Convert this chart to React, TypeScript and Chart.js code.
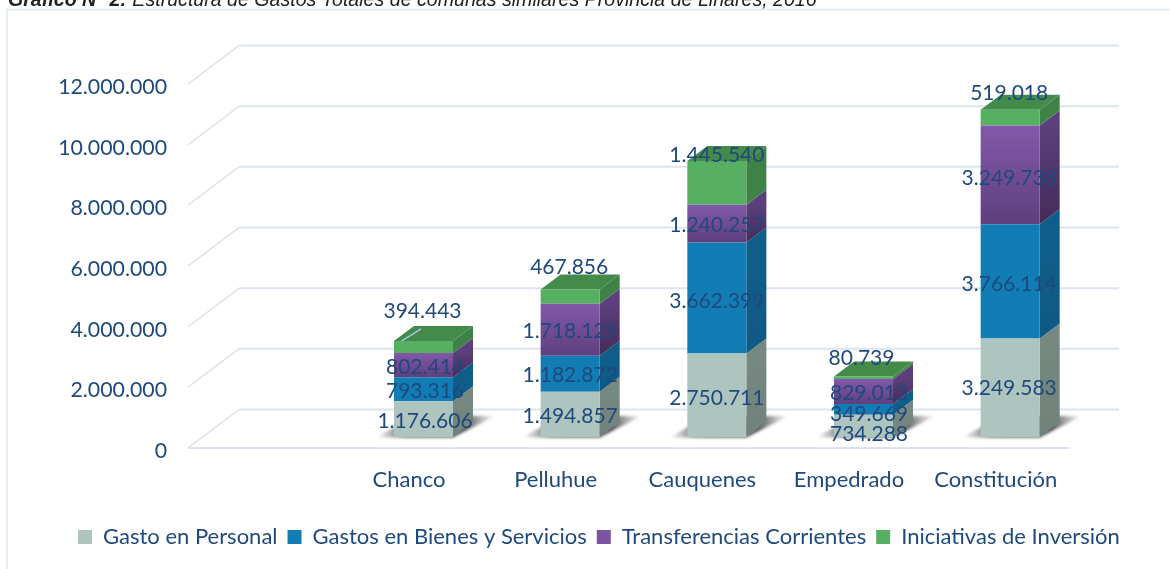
import React, { useEffect, useRef } from "react";
import { Chart, registerables } from "chart.js";

Chart.register(...registerables);

const communes = ["", "Chanco", "Pelluhue", "Cauquenes", "Empedrado", "Constitución"];
const gastoPersonal = [null, 1176606, 1494857, 2750711, 734288, 3249583];
const bienesServicios = [null, 793316, 1182872, 3662399, 349669, 3766114];
const transferencias = [null, 802414, 1718129, 1240257, 829013, 3249738];
const inversion = [null, 394443, 467856, 1445540, 80739, 519018];
const seriesNames = [
  "Gasto en Personal",
  "Gastos en Bienes y Servicios",
  "Transferencias Corrientes",
  "Iniciativas de Inversión",
];

const INK = "#1F497D";
const FONT = "Lato";
const fmt = (v: number) => String(v).replace(/\B(?=(\d{3})+(?!\d))/g, ".");

// label nudges [dataset][category] => [dx, dy], as placed by hand in the reference
const labelNudges: Record<string, [number, number]> = {
  "0-1": [1.5, 2], "1-1": [1.5, 2], "2-1": [1.5, 2], "3-1": [-1, -36],
  "0-2": [0, 2], "1-2": [0, 2], "2-2": [0, 2], "3-2": [-1, -29],
  "0-3": [0, 3], "1-3": [0, 3], "2-3": [0, 2], "3-3": [0, -28],
  "0-4": [5.5, 8], "1-4": [5.5, 4.6], "2-4": [5.5, 2], "3-4": [-2, -20],
  "0-5": [-1, 1], "1-5": [-1, 3], "2-5": [-1, 3], "3-5": [-1, -25],
};

const FLOOR = { dx: 14.5, dy: -11 };
const BAR_DEPTH = { dx: 20, dy: -15 };
const WALL = { dx: 51, dy: -38.5 };

const sideColors: [string, string][] = [
  ["#768980", "#70827A"],
  ["#0F5E8A", "#0F5A84"],
  ["#5C3F7C", "#432C58"],
  ["#3F8247", "#3F8247"],
];

function poly(ctx: CanvasRenderingContext2D, pts: number[][]) {
  ctx.beginPath();
  pts.forEach((p, i) => (i ? ctx.lineTo(p[0], p[1]) : ctx.moveTo(p[0], p[1])));
  ctx.closePath();
}

const wallsPlugin = {
  id: "walls",
  afterLayout(chart: any) {
    const lg = chart.legend;
    lg.left = 68;
    lg.right = 1170;
  },
  beforeDatasetsDraw(chart: any) {
    const { ctx, chartArea, scales } = chart;
    const y = scales.y;
    const wallLeft = chartArea.left - 1;
    ctx.save();
    y.ticks.forEach((t: any) => {
      const py = y.getPixelForValue(t.value);
      ctx.strokeStyle = "#DADDE9";
      ctx.lineWidth = 1.2;
      ctx.beginPath();
      ctx.moveTo(wallLeft, py);
      ctx.lineTo(wallLeft + WALL.dx, py + WALL.dy);
      ctx.stroke();
      ctx.strokeStyle = "#DDE4EF";
      ctx.lineWidth = 2;
      ctx.beginPath();
      ctx.moveTo(wallLeft + WALL.dx, py + WALL.dy);
      ctx.lineTo(chartArea.right + 50, py + WALL.dy);
      ctx.stroke();
    });
    const p0 = y.getPixelForValue(0);
    ctx.strokeStyle = "#DDE4EF";
    ctx.lineWidth = 2;
    ctx.beginPath();
    ctx.moveTo(wallLeft, p0);
    ctx.lineTo(chartArea.right, p0);
    ctx.stroke();
    ctx.restore();

    ctx.save();
    ctx.translate(FLOOR.dx, FLOOR.dy);
    const first = chart.getDatasetMeta(0).data;
    first.forEach((b: any, i: number) => {
      if (!communes[i]) return;
      const l = b.x - b.width / 2;
      const r = b.x + b.width / 2;
      const g = ctx.createLinearGradient(l - 18, 0, r + 42, 0);
      g.addColorStop(0, "rgba(90,90,90,0)");
      g.addColorStop(0.25, "rgba(80,80,80,0.9)");
      g.addColorStop(0.75, "rgba(70,70,70,0.9)");
      g.addColorStop(1, "rgba(90,90,90,0)");
      ctx.save();
      ctx.filter = "blur(1.5px)";
      ctx.fillStyle = g;
      poly(ctx, [[l - 18, b.base + 0.5], [r, b.base + 0.5], [r + 42, b.base - 21], [l + 20, b.base - 21]]);
      ctx.fill();
      ctx.restore();
    });
    chart.data.datasets.forEach((_: any, d: number) => {
      chart.getDatasetMeta(d).data.forEach((b: any, i: number) => {
        if (!communes[i]) return;
        const r = b.x + b.width / 2;
        const l = b.x - b.width / 2;
        const g = ctx.createLinearGradient(0, b.y, 0, b.base);
        g.addColorStop(0, sideColors[d][0]);
        g.addColorStop(1, sideColors[d][1]);
        ctx.fillStyle = g;
        poly(ctx, [
          [r, b.y],
          [r + BAR_DEPTH.dx, b.y + BAR_DEPTH.dy],
          [r + BAR_DEPTH.dx, b.base + BAR_DEPTH.dy],
          [r, b.base],
        ]);
        ctx.fill();
        if (d === chart.data.datasets.length - 1) {
          ctx.fillStyle = "#438A4B";
          poly(ctx, [
            [l, b.y],
            [l + BAR_DEPTH.dx, b.y + BAR_DEPTH.dy],
            [r + BAR_DEPTH.dx, b.y + BAR_DEPTH.dy],
            [r, b.y],
          ]);
          ctx.fill();
        }
      });
    });
    const top = chart.getDatasetMeta(3).data[1];
    const tl = top.x - top.width / 2;
    ctx.strokeStyle = "#A9C6E8";
    ctx.lineWidth = 1.4;
    ctx.beginPath();
    ctx.moveTo(tl, top.y + 5);
    ctx.lineTo(tl + 27, top.y - 12);
    ctx.stroke();
    // bars are then drawn by Chart.js in this translated space (restored below)
  },
  afterDatasetsDraw(chart: any) {
    const { ctx } = chart;
    ctx.restore();
    ctx.save();
    ctx.font = `21px ${FONT}`;
    ctx.fillStyle = INK;
    ctx.textAlign = "center";
    ctx.textBaseline = "middle";
    chart.data.datasets.forEach((ds: any, d: number) => {
      chart.getDatasetMeta(d).data.forEach((b: any, i: number) => {
        const v = ds.data[i];
        if (v == null) return;
        const n = labelNudges[`${d}-${i}`] || [0, 0];
        ctx.fillText(fmt(v), b.x + FLOOR.dx + n[0], (b.y + b.base) / 2 + FLOOR.dy + n[1]);
      });
    });
    ctx.restore();
  },
  beforeDraw(chart: any) {
    const { ctx, width, height } = chart;
    ctx.save();
    ctx.fillStyle = "#FFFFFF";
    ctx.fillRect(0, 0, width, height);
    ctx.strokeStyle = "#DCE6F4";
    ctx.lineWidth = 1.5;
    ctx.beginPath();
    ctx.moveTo(7, height + 2);
    ctx.lineTo(7, 9.5);
    ctx.lineTo(width + 2, 9.5);
    ctx.stroke();
    ctx.restore();
  },
};

function purpleFill(c: any) {
  const { chart, dataIndex } = c;
  if (dataIndex == null || transferencias[dataIndex] == null || !chart.chartArea || !chart.scales.y) return "#7A549E";
  const y = chart.scales.y;
  const low = (gastoPersonal[dataIndex] || 0) + (bienesServicios[dataIndex] || 0);
  const high = low + (transferencias[dataIndex] || 0);
  const g = chart.ctx.createLinearGradient(0, y.getPixelForValue(high), 0, y.getPixelForValue(low));
  g.addColorStop(0, "#8259A9");
  g.addColorStop(1, "#5F3F7E");
  return g;
}

export default function App() {
  const ref = useRef<HTMLCanvasElement | null>(null);
  useEffect(() => {
    const chart = new Chart(ref.current as HTMLCanvasElement, {
      type: "bar",
      plugins: [wallsPlugin],
      data: {
        labels: communes,
        datasets: [
          { label: seriesNames[0], data: gastoPersonal, backgroundColor: "#AEC4BE" },
          { label: seriesNames[1], data: bienesServicios, backgroundColor: "#127CB5" },
          { label: seriesNames[2], data: transferencias, backgroundColor: purpleFill },
          { label: seriesNames[3], data: inversion, backgroundColor: "#57AF62" },
        ] as any,
      },
      options: {
        animation: false,
        responsive: false,
        devicePixelRatio: 1,
        categoryPercentage: 1,
        barPercentage: 0.4025,
        layout: { padding: { top: 84, right: 101, left: 0, bottom: 11 } },
        scales: {
          x: {
            stacked: true,
            grid: { display: false, drawTicks: false },
            border: { display: false },
            ticks: { color: INK, font: { family: FONT, size: 22 }, padding: 18.8, maxRotation: 0, autoSkip: false },
            afterFit(s: any) {
              s.height = 68;
            },
          },
          y: {
            stacked: true,
            min: 0,
            max: 12000000,
            grid: { display: false, drawTicks: false },
            border: { display: false },
            ticks: {
              stepSize: 2000000,
              color: INK,
              padding: 22,
              labelOffset: 3,
              font: { family: FONT, size: 21.3 },
              callback: (v: any) => fmt(Number(v)),
            },
            afterFit(s: any) {
              s.width = 189;
            },
          },
        },
        plugins: {
          title: { display: false },
          tooltip: { enabled: false },
          legend: {
            position: "bottom",
            align: "start",
            labels: {
              color: INK,
              font: { family: FONT, size: 22 },
              boxWidth: 14,
              boxHeight: 14,
              padding: 10,
            },
          },
        },
      } as any,
    });
    return () => chart.destroy();
  }, []);
  return (
    <div style={{ position: "absolute", left: 0, top: 0, width: 1170, height: 569, overflow: "hidden", background: "#fff" }}>
      <canvas ref={ref} width={1170} height={569} style={{ display: "block" }} />
      <div
        style={{
          position: "absolute",
          left: 8,
          top: -13.5,
          whiteSpace: "nowrap",
          fontFamily: "'Liberation Sans'",
          fontStyle: "italic",
          fontSize: 19.6,
          lineHeight: "24px",
          color: "#222",
        }}
      >
        <b>Gráfico N° 2:</b> Estructura de Gastos Totales de comunas similares Provincia de Linares, 2016
      </div>
    </div>
  );
}
